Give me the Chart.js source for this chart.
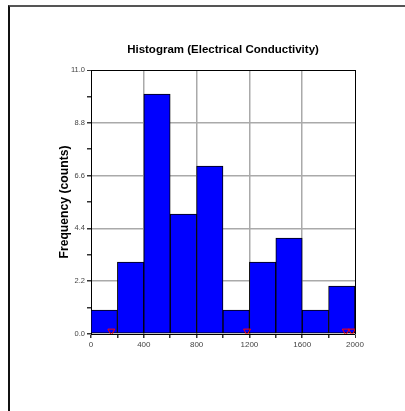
<!DOCTYPE html>
<html>
<head>
<meta charset="utf-8">
<script src="https://cdn.jsdelivr.net/npm/chart.js@4"></script>
<style>
  body { margin: 0; background: #fff; }
  #wrap { position: relative; width: 405px; height: 411px; overflow: hidden; }
  #frame { position: absolute; left: 8px; top: 5px; width: 420px; height: 420px; border-left: 2px solid #111; border-top: 2px solid #555; }
  canvas { position: absolute; left: 0; top: 0; }
</style>
</head>
<body>
<div id="wrap">
  <div id="frame"></div>
  <canvas id="chart" width="405" height="411"></canvas>
</div>
<script>
// histogram bins (electrical conductivity) and counts per bin
const binEdges = [0, 200, 400, 600, 800, 1000, 1200, 1400, 1600, 1800, 2000];
const counts = [1, 3, 10, 5, 7, 1, 3, 4, 1, 2];
// red markers along the bottom
const markerValues = [154, 1182, 1930, 1977];

const xLabels = ['0', '', '400', '', '800', '', '1200', '', '1600', '', '2000'];
const yTicks = [0, 1.1, 2.2, 3.3, 4.4, 5.5, 6.6, 7.7, 8.8, 9.9, 11];
const yLabels = ['0.0', '', '2.2', '', '4.4', '', '6.6', '', '8.8', '', '11.0'];

const FONT = 'Liberation Sans, Arial, Helvetica, sans-serif';

const barData = counts.map((c, i) => ({x: (binEdges[i] + binEdges[i + 1]) / 2, y: c}));
const markerData = markerValues.map(v => ({x: v, y: 0.12}));

function gridColor(index, last) {
    if (index === last) return '#000';
    if (index > 0 && index % 2 === 0) return '#aaa';
    return 'rgba(0,0,0,0)';
}

new Chart(document.getElementById('chart'), {
    type: 'bar',
    data: {
        datasets: [
            {
                type: 'scatter',
                data: markerData,
                pointStyle: 'triangle',
                rotation: 180,
                radius: 4,
                borderColor: '#ff0000',
                backgroundColor: 'rgba(0,0,0,0)',
                borderWidth: 1,
                order: 0
            },
            {
                data: barData,
                backgroundColor: '#0000ff',
                borderColor: '#000',
                borderWidth: 1,
                borderSkipped: false,
                barPercentage: 1,
                categoryPercentage: 1,
                order: 1
            }
        ]
    },
    options: {
        responsive: false,
        animation: false,
        layout: {padding: {left: 0, right: 50, top: 0, bottom: 0}},
        plugins: {
            legend: {display: false},
            tooltip: {enabled: false},
            title: {
                display: true,
                text: 'Histogram (Electrical Conductivity)',
                color: '#000',
                fullSize: false,
                font: {family: FONT, size: 11.5, weight: 'bold'},
                padding: {top: 43, bottom: 13.2}
            }
        },
        scales: {
            x: {
                type: 'linear',
                min: 0,
                max: 2000,
                offset: false,
                afterBuildTicks: scale => { scale.ticks = binEdges.map(v => ({value: v})); },
                afterFit: scale => { scale.height = 77; },
                ticks: {
                    callback: (v, i) => xLabels[i],
                    font: {family: FONT, size: 8},
                    color: '#444',
                    maxRotation: 0,
                    autoSkip: false,
                    padding: 2
                },
                grid: {
                    offset: false,
                    color: ctx => gridColor(ctx.index, binEdges.length - 1),
                    lineWidth: ctx => ctx.index === binEdges.length - 1 ? 1 : 1.5,
                    tickColor: '#333',
                    tickLength: 4
                },
                border: {color: '#000', width: 1}
            },
            y: {
                min: 0,
                max: 11,
                afterBuildTicks: scale => { scale.ticks = yTicks.map(v => ({value: v})); },
                afterFit: scale => { scale.width = 91; },
                ticks: {
                    callback: (v, i) => yLabels[i],
                    font: {family: FONT, size: 7.5},
                    color: '#444',
                    autoSkip: false,
                    padding: 2
                },
                grid: {
                    color: ctx => gridColor(ctx.index, yTicks.length - 1),
                    lineWidth: ctx => ctx.index === yTicks.length - 1 ? 1 : 1.5,
                    tickColor: '#333',
                    tickLength: 4
                },
                border: {color: '#000', width: 1},
                title: {
                    display: true,
                    text: 'Frequency (counts)',
                    color: '#000',
                    font: {family: FONT, size: 12.2, weight: 'bold'},
                    padding: {top: 57.7, bottom: 0}
                }
            }
        }
    }
});
</script>
</body>
</html>
